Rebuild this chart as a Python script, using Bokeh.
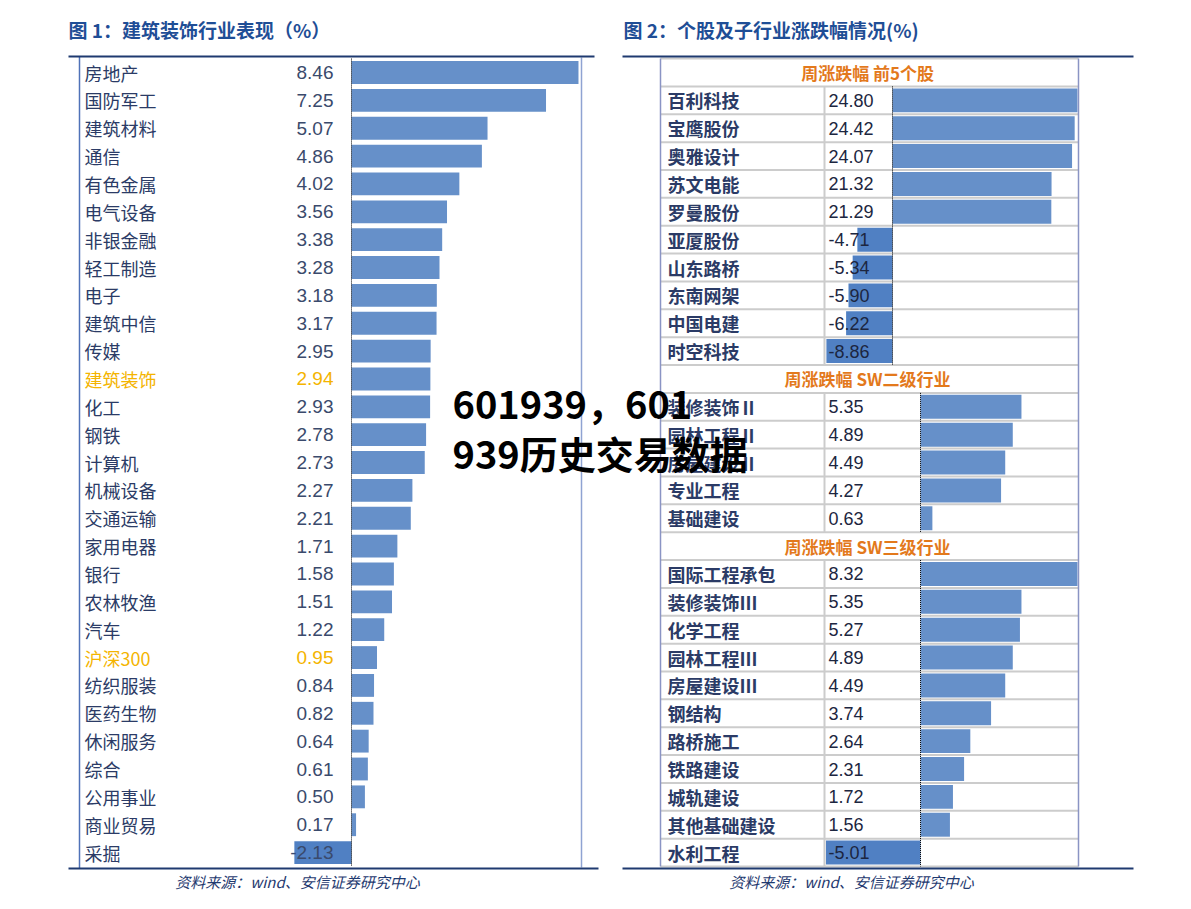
from bokeh.plotting import figure
from bokeh.models import Range1d
from bokeh.core.properties import value
from bokeh.embed import file_html
from bokeh.resources import INLINE

# ---------------- data ----------------
left_labels = ["房地产", "国防军工", "建筑材料", "通信", "有色金属", "电气设备", "非银金融",
               "轻工制造", "电子", "建筑中信", "传媒", "建筑装饰", "化工", "钢铁", "计算机",
               "机械设备", "交通运输", "家用电器", "银行", "农林牧渔", "汽车", "沪深300",
               "纺织服装", "医药生物", "休闲服务", "综合", "公用事业", "商业贸易", "采掘"]
left_values = [8.46, 7.25, 5.07, 4.86, 4.02, 3.56, 3.38, 3.28, 3.18, 3.17, 2.95, 2.94, 2.93,
               2.78, 2.73, 2.27, 2.21, 1.71, 1.58, 1.51, 1.22, 0.95, 0.84, 0.82, 0.64, 0.61,
               0.50, 0.17, -2.13]
left_highlight = ["建筑装饰", "沪深300"]

stock_header = "周涨跌幅  前5个股"
stock_labels = ["百利科技", "宝鹰股份", "奥雅设计", "苏文电能", "罗曼股份",
                "亚厦股份", "山东路桥", "东南网架", "中国电建", "时空科技"]
stock_values = [24.80, 24.42, 24.07, 21.32, 21.29, -4.71, -5.34, -5.90, -6.22, -8.86]

sw2_header = "周涨跌幅  SW二级行业"
sw2_labels = ["装修装饰Ⅱ", "园林工程Ⅱ", "房屋建设Ⅱ", "专业工程", "基础建设"]
sw2_values = [5.35, 4.89, 4.49, 4.27, 0.63]

sw3_header = "周涨跌幅  SW三级行业"
sw3_labels = ["国际工程承包", "装修装饰Ⅲ", "化学工程", "园林工程Ⅲ", "房屋建设Ⅲ", "钢结构",
              "路桥施工", "铁路建设", "城轨建设", "其他基础建设", "水利工程"]
sw3_values = [8.32, 5.35, 5.27, 4.89, 4.49, 3.74, 2.64, 2.31, 1.72, 1.56, -5.01]

title1 = "图 1：建筑装饰行业表现（%）"
title2 = "图 2：个股及子行业涨跌幅情况(%)"
source_text = "资料来源：wind、安信证券研究中心"
watermark = ["601939，601", "939历史交易数据"]

# ---------------- layout ----------------
W, H = 1183, 901
OX, OY = 0, 0
ROW0, PITCH = 72.0, 27.86

CJK = value("Noto Sans CJK SC")
NUM = value("Liberation Sans")
BAR = "#6690c9"
BAR_NEG = "#5080c3"
NAVY = "#1f3a70"
TITLE_C = "#1f4e96"
LABEL_C = "#2b3b66"
VAL_C = "#3a4a6c"
HIL_C = "#f4b400"
ORANGE = "#e3791c"
GRID_C = "#cccccc"

p = figure(width=W, height=H, x_range=Range1d(OX, OX + W), y_range=Range1d(OY + H, OY),
           output_backend="svg", toolbar_location=None, min_border=0,
           x_axis_type=None, y_axis_type=None)
p.outline_line_color = None
p.background_fill_color = "white"


def xrange_for(zero_px, px_per_unit):
    return Range1d(start=(OX - zero_px) / px_per_unit, end=(OX + W - zero_px) / px_per_unit)


p.extra_y_ranges = {"rows": Range1d(start=(OY + H - ROW0) / PITCH, end=(OY - ROW0) / PITCH)}
p.extra_x_ranges = {
    "L": xrange_for(351, 26.83),
    "R1": xrange_for(892, 7.46),
    "R2": xrange_for(920, 18.87),
}

# ---------------- titles ----------------
p.text(x=[68], y=[29], text=[title1], text_font=CJK, text_font_size="19px", text_font_style="bold",
       text_color=TITLE_C, text_baseline="middle", text_align="left")
p.text(x=[623], y=[29], text=[title2], text_font=CJK, text_font_size="19px", text_font_style="bold",
       text_color=TITLE_C, text_baseline="middle", text_align="left")

# ---------------- left panel ----------------
n = len(left_labels)
li = list(range(n))
p.hbar(y=li, left=0, right=left_values, height=0.82,
       fill_color=[BAR if v >= 0 else BAR_NEG for v in left_values], line_color=None,
       x_range_name="L", y_range_name="rows")
lcols = [HIL_C if lab in left_highlight else LABEL_C for lab in left_labels]
vcols = [HIL_C if lab in left_highlight else VAL_C for lab in left_labels]
p.text(x=[84] * n, y=li, text=left_labels, text_font=CJK, text_font_size="18px",
       text_color=lcols, text_baseline="middle", text_align="left", y_range_name="rows")
p.text(x=[333] * n, y=li, text=["%.2f" % v for v in left_values], text_font=NUM,
       text_font_size="19px", text_color=vcols, text_baseline="middle", text_align="right",
       y_range_name="rows")
# zero line
p.segment(x0=[351], x1=[351], y0=[-0.5], y1=[n - 0.5], line_color="black", line_width=1,
          line_dash="1 1", y_range_name="rows")
# borders
p.segment(x0=[79], x1=[79], y0=[56], y1=[868], line_color="#4f72b8", line_width=1.5)
p.segment(x0=[581], x1=[581], y0=[57], y1=[867], line_color="#8fa3d2", line_width=1.5)
p.segment(x0=[68, 68], x1=[594, 598], y0=[56, 868], y1=[56, 868], line_color=NAVY, line_width=2)
p.text(x=[297], y=[881], text=[source_text], text_font=CJK, text_font_size="15px",
       text_font_style="italic", text_color=NAVY, text_baseline="middle", text_align="center")

# ---------------- right panel ----------------
sections = [
    (stock_header, stock_labels, stock_values, "R1", 892),
    (sw2_header, sw2_labels, sw2_values, "R2", 920),
    (sw3_header, sw3_labels, sw3_values, "R2", 920),
]
TL, TR, COL = 660, 1078, 824
row = 0
total_rows = sum(1 + len(s[1]) for s in sections)
# row separators
bounds = [r - 0.5 for r in range(total_rows + 1)]
p.segment(x0=[TL] * len(bounds), x1=[TR] * len(bounds), y0=bounds, y1=bounds,
          line_color=GRID_C, line_width=2, y_range_name="rows")
for header, labels, vals, xr, zero_px in sections:
    p.text(x=[(TL + TR) / 2], y=[row], text=[header], text_font=CJK, text_font_size="17px",
           text_font_style="bold", text_color=ORANGE, text_baseline="middle", text_align="center",
           y_range_name="rows")
    idx = [row + 1 + k for k in range(len(labels))]
    m = len(labels)
    p.hbar(y=idx, left=0, right=vals, height=0.86,
           fill_color=[BAR if v >= 0 else BAR_NEG for v in vals], line_color=None,
           x_range_name=xr, y_range_name="rows")
    p.text(x=[667] * m, y=idx, text=labels, text_font=CJK, text_font_size="18px",
           text_font_style="bold", text_color=LABEL_C, text_baseline="middle", text_align="left",
           y_range_name="rows")
    p.text(x=[828] * m, y=idx, text=["%.2f" % v for v in vals], text_font=NUM,
           text_font_size="18px", text_color="#1c2640", text_baseline="middle",
           text_align="left", y_range_name="rows")
    y0, y1 = idx[0] - 0.5, idx[-1] + 0.5
    p.segment(x0=[COL], x1=[COL], y0=[y0], y1=[y1], line_color=GRID_C, line_width=2,
              y_range_name="rows")
    p.segment(x0=[zero_px], x1=[zero_px], y0=[y0], y1=[y1], line_color="black", line_width=1,
              line_dash="1 1", y_range_name="rows")
    row += 1 + m

p.segment(x0=[TL, TR], x1=[TL, TR], y0=[-0.5, -0.5], y1=[total_rows - 0.5] * 2,
          line_color="#8a94c4", line_width=1.5, y_range_name="rows")
p.segment(x0=[622, 622], x1=[1133, 1133], y0=[56, 868], y1=[56, 868], line_color=NAVY,
          line_width=2)
p.text(x=[851], y=[881], text=[source_text], text_font=CJK, text_font_size="15px",
       text_font_style="italic", text_color=NAVY, text_baseline="middle", text_align="center")

# ---------------- watermark ----------------
p.text(x=[452, 452], y=[402, 452], text=watermark, text_font=CJK, text_font_size="38px",
       text_font_style="bold", text_color="black", text_baseline="middle", text_align="left")

open("out.html", "w").write(file_html(p, INLINE))
